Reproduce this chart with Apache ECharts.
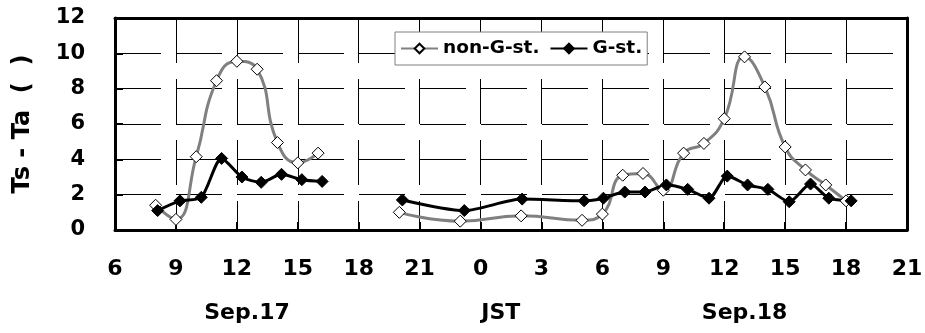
<!DOCTYPE html>
<html>
<head>
<meta charset="utf-8">
<script>
  // collect library warnings instead of letting them reach the console
  window.chartLog = [];
  console.error = function () { window.chartLog.push('E: ' + Array.from(arguments).map(a => (a && a.stack) ? a.stack.split('\n')[0] : String(a)).join(' ')); };
  console.warn = function () { window.chartLog.push('W: ' + Array.from(arguments).map(String).join(' ')); };
  window.onerror = function (m) { window.chartLog.push('ERR: ' + m); };
</script>
<script src="https://cdn.jsdelivr.net/npm/echarts@6/dist/echarts.min.js"></script>
<style>
  html, body { margin: 0; padding: 0; background: #fff; overflow: hidden; }
  .w { width: 925px; height: 333px; display: inline-block; overflow: hidden; position: relative; }
  .c { width: 925px; height: 333px; position: absolute; left: 0; top: 0; }
</style>
</head>
<body>
<div class="w"><div class="c" id="fig1"></div></div>
<script>
// hours counted from Sep.17 00:00 (so 24 = Sep.18 0:00); null breaks the line
const nonGHours = [8, 9, 10, 11, 12, 13, 14, 15, 16, 18, 20, 23, 26, 29, 30, 31, 32, 33, 34, 35, 36, 37, 38, 39, 40, 41, 42];
const nonGValues = [1.4, 0.6, 4.15, 8.45, 9.55, 9.1, 4.95, 3.8, 4.35, null, 1.0, 0.5, 0.8, 0.55, 0.9, 3.1, 3.2, 2.25, 4.35, 4.9, 6.3, 9.8, 8.1, 4.7, 3.4, 2.55, 1.65];
const gHours = [8.1, 9.2, 10.25, 11.25, 12.25, 13.2, 14.2, 15.2, 16.2, 18, 20.15, 23.2, 26.05, 29.1, 30.05, 31.1, 32.1, 33.15, 34.2, 35.25, 36.15, 37.15, 38.15, 39.2, 40.25, 41.15, 42.25];
const gValues = [1.1, 1.65, 1.85, 4.05, 3.0, 2.7, 3.15, 2.85, 2.75, null, 1.7, 1.1, 1.75, 1.65, 1.8, 2.15, 2.15, 2.55, 2.3, 1.8, 3.05, 2.55, 2.3, 1.6, 2.6, 1.8, 1.65];
const seriesNames = ['non-G-st.', 'G-st.'];
// labels under the hour ticks, placed at an hour on the axis
const dayLabels = ['Sep.17', 'JST', 'Sep.18'];
const dayLabelHours = [12.5, 25, 37];

const FONT = 'DejaVu Sans';
const pairs = (xs, ys) => xs.map((x, i) => [x, ys[i] == null ? '-' : ys[i]]);
const frame = () => ({ show: true, onZero: false, lineStyle: { color: '#000', width: 3 } });
const bold = size => ({ fontFamily: FONT, fontWeight: 'bold', fontSize: size, color: '#000' });

const option = {
    backgroundColor: '#fff',
    animation: false,
    grid: { left: 115, right: 18, top: 18, bottom: 103, outerBoundsMode: 'none' },
    legend: {
        left: 395, top: 32,
        padding: [6, 5, 6, 5],
        itemGap: 10, itemWidth: 37, itemHeight: 12,
        borderColor: '#808080', borderWidth: 1, backgroundColor: '#fff',
        textStyle: Object.assign(bold(18.5), { lineHeight: 21 }),
        data: seriesNames
    },
    xAxis: [{
        type: 'value', min: 6, max: 45, interval: 3,
        axisLine: frame(),
        axisTick: { show: true, inside: true, length: 8, lineStyle: { color: '#000', width: 2 } },
        axisLabel: Object.assign(bold(22), { margin: 28, formatter: v => String(v % 24) }),
        splitLine: { show: true, lineStyle: { color: '#000', width: 1, type: [45, 16] } }
    }, {
        // top edge of the frame
        type: 'value', position: 'top', min: 6, max: 45, interval: 3,
        axisLine: frame(), axisTick: { show: false }, axisLabel: { show: false }, splitLine: { show: false }
    }, {
        // day labels row
        type: 'value', position: 'bottom', offset: 72, min: 6, max: 45,
        axisLine: { show: false }, axisTick: { show: false }, splitLine: { show: false },
        axisLabel: Object.assign(bold(22), {
            margin: 0, customValues: dayLabelHours,
            formatter: v => dayLabels[dayLabelHours.indexOf(v)]
        })
    }],
    yAxis: [{
        type: 'value', min: 0, max: 12, interval: 2,
        name: 'Ts - Ta  (  )', nameLocation: 'middle', nameGap: 80, nameRotate: 90,
        nameTextStyle: bold(24),
        axisLine: frame(),
        axisTick: { show: true, inside: true, length: 8, lineStyle: { color: '#000', width: 2 } },
        axisLabel: Object.assign(bold(21), { margin: 30 }),
        splitLine: { show: true, lineStyle: { color: '#000', width: 1, type: [46, 15] } }
    }, {
        // right edge of the frame
        type: 'value', position: 'right', min: 0, max: 12, interval: 2,
        axisLine: frame(), axisTick: { show: false }, axisLabel: { show: false }, splitLine: { show: false }
    }],
    series: [
        {
            name: seriesNames[0], type: 'line', data: pairs(nonGHours, nonGValues),
            smooth: 0.5, connectNulls: false,
            symbol: 'diamond', symbolSize: 12,
            lineStyle: { color: '#808080', width: 3 },
            itemStyle: { color: '#fff', borderColor: '#000', borderWidth: 1 }
        },
        {
            name: seriesNames[1], type: 'line', data: pairs(gHours, gValues),
            smooth: 0.25, connectNulls: false,
            symbol: 'diamond', symbolSize: 12,
            lineStyle: { color: '#000', width: 3 },
            itemStyle: { color: '#000', borderColor: '#000', borderWidth: 1 }
        }
    ]
};

const myChart = echarts.init(document.getElementById('fig1'));
myChart.setOption(option);
// a later merge/resize re-render drops the ticks and grid lines in this build, so keep the first render
myChart.resize = function () {};
const firstSetOption = myChart.setOption.bind(myChart);
myChart.setOption = function () {};
</script>
</body>
</html>
